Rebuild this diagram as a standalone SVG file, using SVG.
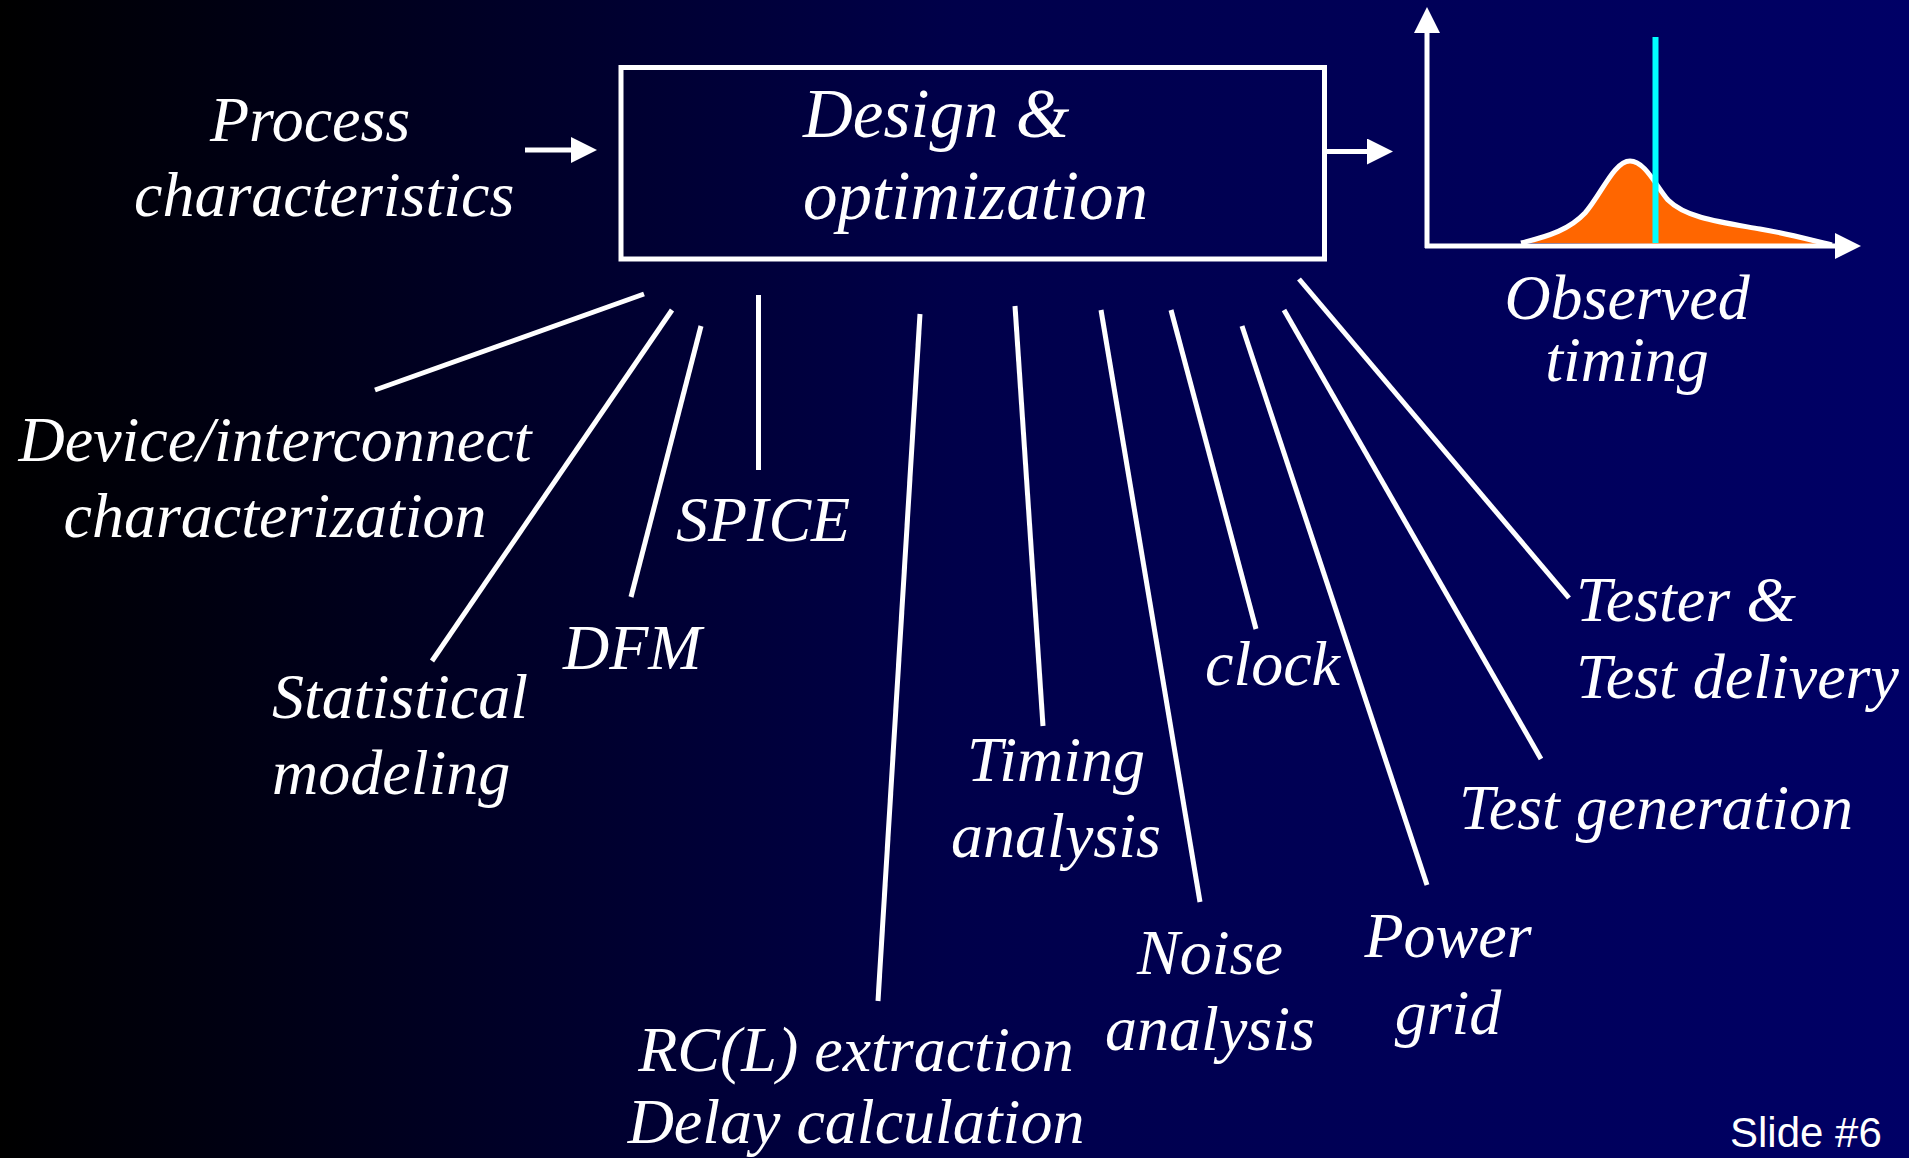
<svg xmlns="http://www.w3.org/2000/svg" width="1909" height="1158" viewBox="0 0 1909 1158">
  <defs>
    <linearGradient id="bg" x1="0" y1="0" x2="1" y2="0">
      <stop offset="0" stop-color="#000000"/>
      <stop offset="0.5" stop-color="#00004a"/>
      <stop offset="1" stop-color="#000066"/>
    </linearGradient>
    <marker id="head" markerUnits="userSpaceOnUse" markerWidth="27" markerHeight="27" refX="0" refY="13" orient="auto">
      <path d="M0,0 L26,13 L0,26 z" fill="#ffffff"/>
    </marker>
    <style>
      .lbl { font-family: "Liberation Serif", "Times New Roman", serif; font-style: italic; font-size: 64px; fill: #ffffff; }
      .big { font-size: 69px; }
      .mid { text-anchor: middle; }
      .conn line { stroke: #ffffff; stroke-width: 5; stroke-linecap: butt; }
      .arrow { stroke: #ffffff; stroke-width: 5; fill: none; marker-end: url(#head); }
    </style>
  </defs>

  <rect x="0" y="0" width="1909" height="1158" fill="url(#bg)"/>

  <!-- input label feeding the main block -->
  <g id="process">
    <text class="lbl" x="210" y="141">Process</text>
    <text class="lbl" x="134" y="216">characteristics</text>
  </g>

  <!-- main block -->
  <g id="design">
    <rect x="621" y="67.5" width="703.5" height="191.5" fill="none" stroke="#ffffff" stroke-width="5"/>
    <text class="lbl big" x="803" y="137">Design &amp;</text>
    <text class="lbl big" x="803" y="219">optimization</text>
  </g>

  <!-- output distribution plot -->
  <g id="observed">
    <path d="M1521,243 C1550,236 1570,229 1585,213 C1601,195 1614,161 1630,161 C1645,161 1656,186 1668,200 C1686,218 1720,222 1760,229 C1790,234 1810,240 1832,245 Z" fill="#ff6600"/>
    <path d="M1521,243 C1550,236 1570,229 1585,213 C1601,195 1614,161 1630,161 C1645,161 1656,186 1668,200 C1686,218 1720,222 1760,229 C1790,234 1810,240 1832,245" fill="none" stroke="#ffffff" stroke-width="5"/>
    <line x1="1655.5" y1="37" x2="1655.5" y2="243" stroke="#00ffff" stroke-width="6"/>
    <line class="arrow" x1="1427" y1="248" x2="1427" y2="33"/>
    <line class="arrow" x1="1425" y1="246" x2="1835" y2="246"/>
    <text class="lbl mid" x="1627" y="319">Observed</text>
    <text class="lbl mid" x="1627" y="381">timing</text>
  </g>

  <g id="device">
    <text class="lbl mid" x="275" y="461">Device/interconnect</text>
    <text class="lbl mid" x="275" y="537">characterization</text>
  </g>
  <g id="statistical">
    <text class="lbl" x="272" y="718">Statistical</text>
    <text class="lbl" x="272" y="794">modeling</text>
  </g>
  <g id="dfm">
    <text class="lbl" x="563" y="669">DFM</text>
  </g>
  <g id="spice">
    <text class="lbl" x="676" y="541">SPICE</text>
  </g>
  <g id="rcl">
    <text class="lbl mid" x="856" y="1071">RC(L) extraction</text>
    <text class="lbl mid" x="856" y="1143">Delay calculation</text>
  </g>
  <g id="timing">
    <text class="lbl mid" x="1056" y="781">Timing</text>
    <text class="lbl mid" x="1056" y="857">analysis</text>
  </g>
  <g id="noise">
    <text class="lbl mid" x="1210" y="974">Noise</text>
    <text class="lbl mid" x="1210" y="1050">analysis</text>
  </g>
  <g id="clock">
    <text class="lbl" x="1205" y="685">clock</text>
  </g>
  <g id="power">
    <text class="lbl mid" x="1448" y="957">Power</text>
    <text class="lbl mid" x="1448" y="1034">grid</text>
  </g>
  <g id="testgen">
    <text class="lbl" x="1459" y="829">Test generation</text>
  </g>
  <g id="tester">
    <text class="lbl" x="1576" y="621">Tester &amp;</text>
    <text class="lbl" x="1576" y="698">Test delivery</text>
  </g>

  <!-- connectors -->
  <g id="connectors" class="conn">
    <line class="arrow" x1="525" y1="150" x2="571" y2="150"/>
    <line class="arrow" x1="1326" y1="151.5" x2="1367" y2="151.5"/>
    <line x1="644" y1="294" x2="375" y2="390"/>
    <line x1="672" y1="310" x2="432" y2="661"/>
    <line x1="701" y1="326" x2="631" y2="597"/>
    <line x1="758.5" y1="295" x2="758.5" y2="470"/>
    <line x1="920" y1="314" x2="878" y2="1001"/>
    <line x1="1015" y1="306" x2="1043" y2="726"/>
    <line x1="1101" y1="310" x2="1200" y2="902"/>
    <line x1="1171" y1="310" x2="1256" y2="629"/>
    <line x1="1242" y1="326" x2="1427" y2="885"/>
    <line x1="1284" y1="310" x2="1541" y2="759"/>
    <line x1="1299" y1="279" x2="1569" y2="598"/>
  </g>

  <text x="1730" y="1147" font-family="Liberation Sans, Arial, sans-serif" font-size="42" fill="#ffffff">Slide #6</text>
</svg>
